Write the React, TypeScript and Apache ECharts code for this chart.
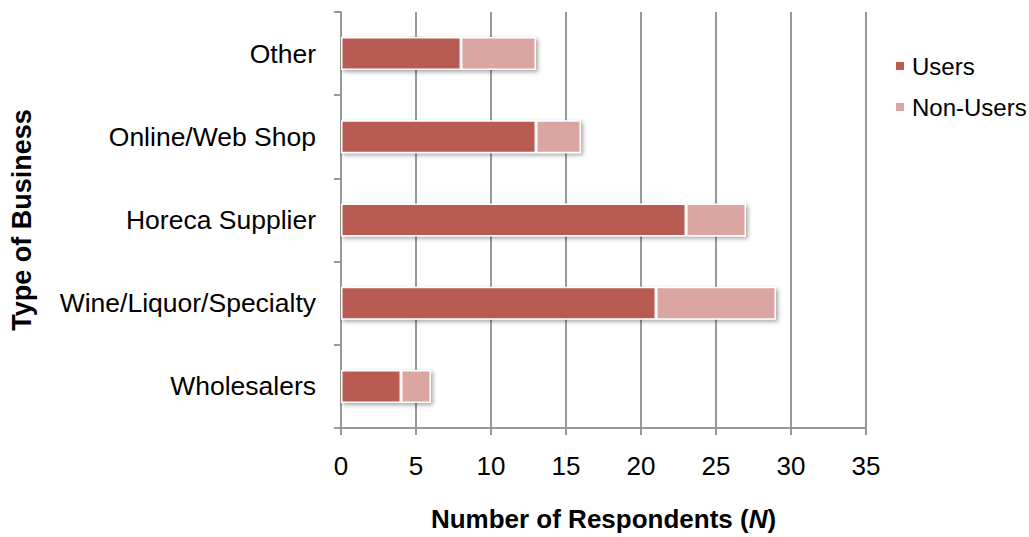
import React, { useEffect, useRef } from "react";
import * as echarts from "echarts";

const categories = ["Wholesalers", "Wine/Liquor/Specialty", "Horeca Supplier", "Online/Web Shop", "Other"];
const users = [4, 21, 23, 13, 8];
const nonUsers = [2, 8, 4, 3, 5];
const xTicks = { min: 0, max: 35, interval: 5 };

export default function App() {
  const ref = useRef<HTMLDivElement>(null);
  useEffect(() => {
    const chart = echarts.init(ref.current!, null, { renderer: "svg" });
    const font = "Liberation Sans, Arial, sans-serif";
    const barStyle = (color: string) => ({
      color,
      borderColor: "#ffffff",
      borderWidth: 1.5,
      shadowColor: "rgba(0,0,0,0.35)",
      shadowBlur: 4,
      shadowOffsetX: 2,
      shadowOffsetY: 2,
    });
    chart.setOption({
      animation: false,
      backgroundColor: "#ffffff",
      textStyle: { fontFamily: font },
      grid: { left: 340, right: 163, top: 12, bottom: 107 },
      legend: {
        orient: "vertical",
        left: 889,
        top: 49,
        itemWidth: 10,
        itemHeight: 10,
        itemGap: 17,
        icon: "rect",
        textStyle: { fontSize: 24, color: "#000", fontFamily: font, padding: [0, 0, 0, 2] },
        data: ["Users", "Non-Users"],
      },
      xAxis: {
        type: "value",
        min: xTicks.min,
        max: xTicks.max,
        interval: xTicks.interval,
        axisLine: { show: true, lineStyle: { color: "#999", width: 2 } },
        axisTick: { show: true, length: 7, lineStyle: { color: "#999", width: 2 } },
        splitLine: { show: true, lineStyle: { color: "#999", width: 2 } },
        axisLabel: { fontSize: 26, color: "#000", margin: 25, fontFamily: font },
        name: "{b|Number of Respondents (}{i|N}{b|)}",
        nameLocation: "middle",
        nameGap: 78,
        nameTextStyle: {
          rich: {
            b: { fontSize: 26, fontWeight: "bold", color: "#000", fontFamily: font },
            i: { fontSize: 26, fontWeight: "bold", fontStyle: "italic", color: "#000", fontFamily: font },
          },
        },
      },
      yAxis: {
        type: "category",
        data: categories,
        axisLine: { show: true, lineStyle: { color: "#999", width: 2 } },
        axisTick: { show: true, length: 7, alignWithLabel: false, lineStyle: { color: "#999", width: 2 } },
        axisLabel: { fontSize: 26.5, color: "#000", margin: 25, fontFamily: font },
        name: "Type of Business",
        nameLocation: "middle",
        nameGap: 306,
        nameTextStyle: { fontSize: 27, fontWeight: "bold", color: "#000", fontFamily: font },
      },
      series: [
        {
          name: "Users",
          type: "bar",
          stack: "total",
          barWidth: 33,
          data: users,
          itemStyle: barStyle("#B85B53"),
        },
        {
          name: "Non-Users",
          type: "bar",
          stack: "total",
          barWidth: 33,
          data: nonUsers,
          itemStyle: barStyle("#DBA5A1"),
        },
      ],
    });
    return () => chart.dispose();
  }, []);
  return <div ref={ref} style={{ width: 1029, height: 537, position: "absolute", left: 0, top: 0 }} />;
}
